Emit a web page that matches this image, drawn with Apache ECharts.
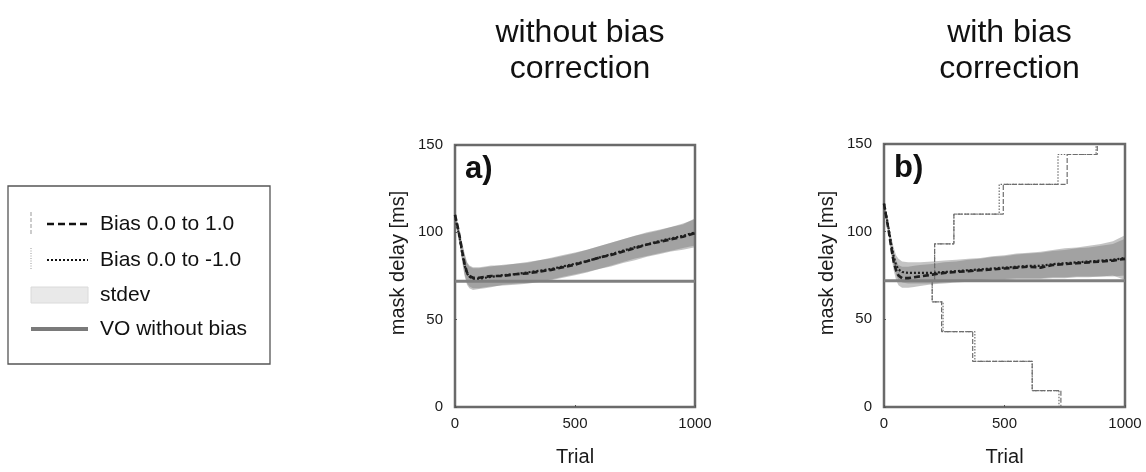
<!DOCTYPE html>
<html>
<head>
<meta charset="utf-8">
<script src="https://cdn.jsdelivr.net/npm/echarts@6/dist/echarts.min.js"></script>
<style>
html,body{margin:0;padding:0;background:#fff;}
#chart{width:1146px;height:472px;}
</style>
</head>
<body>
<div id="chart"></div>
<script>
// ---------- data ----------
var trials = [0, 10, 20, 30, 40, 50, 60, 75, 100, 125, 150, 200, 250, 300, 350, 400, 450, 500, 550, 600, 650, 700, 750, 800, 850, 900, 950, 1000];

// panel a) without bias correction
var aPosMean = [110, 104, 97, 89, 82, 77, 75, 74, 74, 74.5, 75, 75, 76, 76.5, 77.5, 78.5, 80, 81.5, 83.5, 85.5, 87, 89, 91, 93, 94.5, 96, 97.5, 99.5];
var aPosLo   = [109, 102, 94, 84, 76, 71, 69, 68, 68, 68.5, 69, 69.5, 70, 70.5, 71.5, 72.5, 74, 75.5, 77, 79, 80.5, 82.5, 84, 86, 87.5, 89, 90, 91.5];
var aPosHi   = [111, 106, 100, 94, 88, 83, 81, 80, 80, 80.5, 81, 81, 82, 82.5, 84, 85, 86.5, 88, 90, 92, 94, 96, 98, 100, 101.5, 103, 105, 107.5];
var aNegMean = [110, 103, 96, 88, 81, 76.5, 74.5, 73.5, 73.5, 74, 74.5, 75.5, 76, 77, 78, 79, 80.5, 82, 83.5, 85.5, 87.5, 89.5, 91.5, 93, 95, 96.5, 98, 100];
var aNegLo   = [109, 101, 93, 83, 75, 70, 68, 67, 67.5, 68, 68.5, 70, 70.5, 71, 72, 73, 74.5, 76, 77.5, 79, 81, 83, 85, 86.5, 88, 89.5, 91, 92.5];
var aNegHi   = [111, 105, 99, 93, 87, 82.5, 80.5, 79.5, 79.5, 80, 80.5, 81.5, 82, 83, 84, 85.5, 87, 88.5, 90, 92, 94, 96, 98, 99.5, 101, 103, 104.5, 108];

// panel b) with bias correction
var bPosMean = [116, 108, 100, 91, 83, 78, 75, 73.5, 73.5, 74, 74.5, 75.5, 76.5, 77, 77.5, 78, 78.5, 79, 79.5, 80, 79.5, 81, 81.5, 82, 82.5, 83, 83.5, 84.5];
var bPosLo   = [115, 106, 97, 87, 78, 72.5, 69.5, 68, 68, 68.5, 69, 70, 70.5, 71, 71.5, 72, 72, 72.5, 73, 73, 73, 73.5, 73.5, 74, 74, 74.5, 74.5, 75];
var bPosHi   = [117, 110, 103, 95, 88, 83.5, 81, 80, 80, 80.5, 81, 81.5, 82.5, 83, 84, 84.5, 85.5, 86, 87, 87.5, 88, 89, 89.5, 90.5, 91, 92, 93, 96];
var bNegMean = [116, 109, 101, 93, 86, 81, 78.5, 77, 76.5, 76.5, 76.5, 76.5, 77, 77.5, 78, 78.5, 79, 79.5, 80, 80.5, 80.5, 81.5, 82, 82.5, 83, 83.5, 84, 85];
var bNegLo   = [115, 107, 98, 89, 81, 75.5, 72.5, 71, 70.5, 70.5, 70.5, 70.5, 71, 71.5, 72, 72.5, 73, 73, 73.5, 73.5, 73.5, 74, 74, 74.5, 74.5, 74.5, 75, 72.5];
var bNegHi   = [117, 111, 104, 97, 91, 86.5, 84.5, 83, 82.5, 82.5, 82.5, 83, 83.5, 84, 84.5, 85, 86, 86.5, 87.5, 88, 88.5, 89.5, 90.5, 91, 92, 93, 94.5, 98];

// staircases in panel b (trial, mask delay)
var upDashX   = [0, 210, 210, 290, 290, 495, 495, 760, 760, 885, 885];
var upDashY   = [72, 72, 93, 93, 110, 110, 127, 127, 144, 144, 155];
var upDotX    = [0, 210, 210, 290, 290, 478, 478, 722, 722, 880, 880];
var upDotY    = [72, 72, 93, 93, 110, 110, 127, 127, 144, 144, 155];
var downDashX = [0, 200, 200, 239, 239, 368, 368, 615, 615, 734, 734];
var downDashY = [72, 72, 60, 60, 43, 43, 26, 26, 9.3, 9.3, 0];
var downDotX  = [0, 200, 200, 245, 245, 377, 377, 615, 615, 726, 726];
var downDotY  = [72, 72, 60, 60, 43, 43, 26, 26, 9.3, 9.3, 0];

var voLevel = 72;
var xTicks = [0, 500, 1000];
var yTicks = [0, 50, 100, 150];

var titles = ['without bias\ncorrection', 'with bias\ncorrection'];
var panelLabels = ['a)', 'b)'];
var xName = 'Trial';
var yName = 'mask delay [ms]';
var legendNames = ['Bias 0.0 to 1.0', 'Bias 0.0 to -1.0', 'stdev', 'VO without bias'];

// ---------- helpers ----------
function pairs(xs, ys) { return xs.map(function (x, i) { return [x, ys[i]]; }); }

var FONT = 'Liberation Sans, Arial, sans-serif';
var bandColor = 'rgba(115,115,115,0.42)';

function bandSeries(gi, lo, hi) {
  return {
    type: 'custom', xAxisIndex: gi, yAxisIndex: gi, data: [[trials[0], lo[0]]], silent: true, z: 1, clip: true,
    renderItem: function (params, api) {
      var pts = [];
      for (var i = 0; i < trials.length; i++) pts.push(api.coord([trials[i], hi[i]]));
      for (var j = trials.length - 1; j >= 0; j--) pts.push(api.coord([trials[j], lo[j]]));
      return { type: 'polygon', shape: { points: pts }, style: { fill: bandColor } };
    }
  };
}
function meanSeries(gi, data, dashed) {
  return { type: 'line', xAxisIndex: gi, yAxisIndex: gi, data: pairs(trials, data), symbol: 'none',
    lineStyle: dashed ? { color: '#1e1e1e', width: 2.6, type: [6, 3] } : { color: '#1e1e1e', width: 2.2, type: [2, 2] }, z: 5 };
}
function voSeries(gi) {
  return { type: 'line', xAxisIndex: gi, yAxisIndex: gi, data: [[xTicks[0], voLevel], [xTicks[xTicks.length - 1], voLevel]],
    symbol: 'none', lineStyle: { color: '#7f7f7f', width: 3.2 }, z: 4 };
}
function stairSeries(gi, xs, ys, dashed) {
  return { type: 'line', xAxisIndex: gi, yAxisIndex: gi, data: pairs(xs, ys), symbol: 'none', clip: true,
    lineStyle: { color: '#6e6e6e', width: 1.2, type: dashed ? [5, 2] : [1.5, 1.5] }, z: 2 };
}

var grids = [
  { left: 455, top: 145, width: 240, height: 263 },
  { left: 884, top: 144, width: 241, height: 264 }
];

var xAxes = [], yAxes = [];
grids.forEach(function (g, i) {
  g.show = true; g.borderColor = '#6a6a6a'; g.borderWidth = 2.5; g.backgroundColor = 'transparent';
  xAxes.push({ type: 'value', gridIndex: i, min: xTicks[0], max: xTicks[xTicks.length - 1], interval: xTicks[1] - xTicks[0],
    name: xName, nameLocation: 'middle', nameGap: 40,
    nameTextStyle: { fontFamily: FONT, fontSize: 20, color: '#1a1a1a' },
    axisLine: { show: false }, splitLine: { show: false },
    axisTick: { show: true, inside: true, length: 2, lineStyle: { color: '#555' } },
    axisLabel: { fontFamily: FONT, fontSize: 15, color: '#1a1a1a', margin: 9, formatter: function (v) { return String(v); } } });
  yAxes.push({ type: 'value', gridIndex: i, min: yTicks[0], max: yTicks[yTicks.length - 1], interval: yTicks[1] - yTicks[0],
    axisLine: { show: false }, splitLine: { show: false },
    axisTick: { show: true, inside: true, length: 2, lineStyle: { color: '#555' } },
    axisLabel: { fontFamily: FONT, fontSize: 15, color: '#1a1a1a', margin: 12, formatter: function (v) { return String(v); } } });
});

var series = [];
series.push(bandSeries(0, aPosLo, aPosHi), bandSeries(0, aNegLo, aNegHi));
series.push(voSeries(0), meanSeries(0, aNegMean, false), meanSeries(0, aPosMean, true));
series.push(bandSeries(1, bPosLo, bPosHi), bandSeries(1, bNegLo, bNegHi));
series.push(stairSeries(1, upDashX, upDashY, true), stairSeries(1, upDotX, upDotY, false),
            stairSeries(1, downDashX, downDashY, true), stairSeries(1, downDotX, downDotY, false));
series.push(voSeries(1), meanSeries(1, bNegMean, false), meanSeries(1, bPosMean, true));

var titleComps = [];
titles.forEach(function (t, i) {
  titleComps.push({ text: t, left: grids[i].left + grids[i].width / 2, top: 10, textAlign: 'center',
    textStyle: { fontFamily: FONT, fontSize: 32, fontWeight: 'normal', color: '#111', lineHeight: 36 } });
  titleComps.push({ text: panelLabels[i], left: grids[i].left + 5, top: grids[i].top + 4,
    textStyle: { fontFamily: FONT, fontSize: 31, fontWeight: 'bold', color: '#111' } });
});

// legend drawn as graphic
var lgY = [224, 260, 295, 329];
var graphics = [
  { type: 'rect', shape: { x: 8, y: 186, width: 262, height: 178 }, style: { fill: '#fff', stroke: '#555', lineWidth: 1.3 } },
  { type: 'line', shape: { x1: 31, y1: 212, x2: 31, y2: 234 }, style: { stroke: '#999', lineWidth: 1, lineDash: [4, 2] } },
  { type: 'line', shape: { x1: 31, y1: 248, x2: 31, y2: 270 }, style: { stroke: '#999', lineWidth: 1, lineDash: [1, 1.5] } },
  { type: 'line', shape: { x1: 47, y1: lgY[0], x2: 88, y2: lgY[0] }, style: { stroke: '#111', lineWidth: 2.4, lineDash: [7, 4] } },
  { type: 'line', shape: { x1: 47, y1: lgY[1], x2: 88, y2: lgY[1] }, style: { stroke: '#111', lineWidth: 2, lineDash: [2, 2] } },
  { type: 'rect', shape: { x: 31, y: lgY[2] - 8, width: 57, height: 16 }, style: { fill: '#e9e9e9', stroke: '#dadada', lineWidth: 1 } },
  { type: 'line', shape: { x1: 31, y1: lgY[3], x2: 88, y2: lgY[3] }, style: { stroke: '#7a7a7a', lineWidth: 4 } }
];
legendNames.forEach(function (n, i) {
  graphics.push({ type: 'text', x: 100, y: lgY[i], style: { text: n, fontFamily: FONT, fontSize: 21, fill: '#111', textVerticalAlign: 'middle', verticalAlign: 'middle' } });
});
// rotated y-axis names
grids.forEach(function (g) {
  graphics.push({ type: 'text', x: g.left - 57, y: 263, rotation: Math.PI / 2,
    style: { text: yName, fontFamily: FONT, fontSize: 20, fill: '#1a1a1a', textAlign: 'center', align: 'center', textVerticalAlign: 'middle', verticalAlign: 'middle' } });
});

var chart = echarts.init(document.getElementById('chart'), null, { renderer: 'canvas' });
chart.setOption({
  animation: false,
  backgroundColor: '#fff',
  title: titleComps,
  grid: grids,
  xAxis: xAxes,
  yAxis: yAxes,
  series: series,
  graphic: graphics
});
</script>
</body>
</html>
